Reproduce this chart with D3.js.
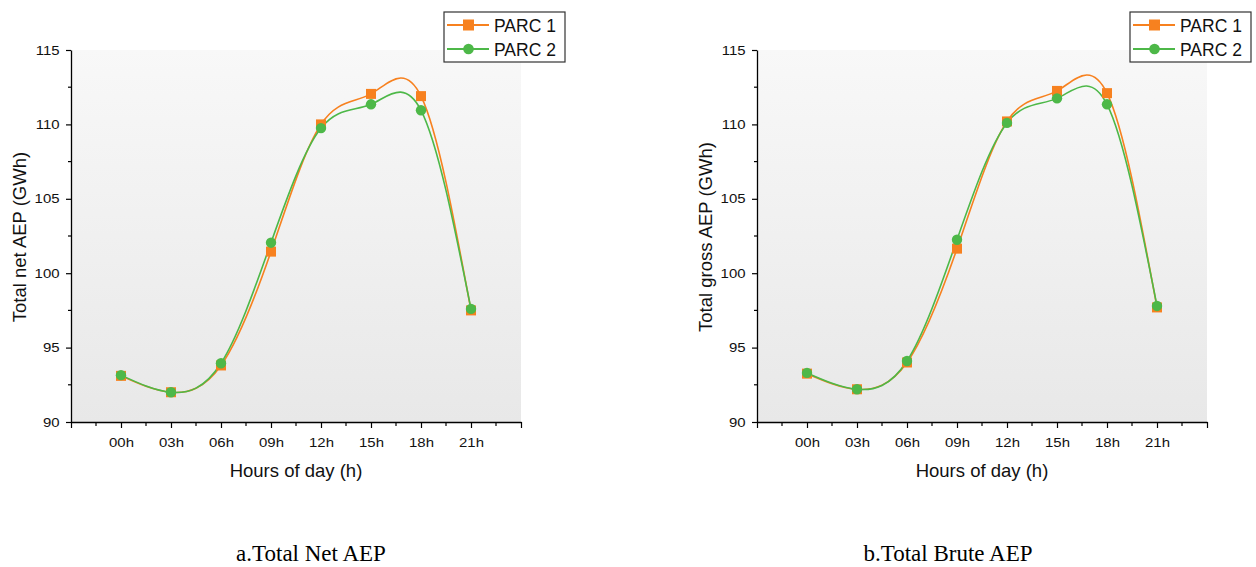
<!DOCTYPE html>
<html>
<head>
<meta charset="utf-8">
<script src="https://cdn.jsdelivr.net/npm/d3@7"></script>
<style>
  html, body { margin: 0; padding: 0; background: #fff; }
  svg { display: block; }
</style>
</head>
<body>
<svg id="chart" width="1256" height="567"></svg>
<script>
// ---- data ----
const hours = [0, 3, 6, 9, 12, 15, 18, 21];
const hourLabels = ["00h", "03h", "06h", "09h", "12h", "15h", "18h", "21h"];
const seriesNames = ["PARC 1", "PARC 2"];
const netParc1 = [93.1, 92.0, 93.8, 101.45, 110.0, 112.05, 111.9, 97.5];
const netParc2 = [93.15, 92.0, 93.95, 102.05, 109.75, 111.35, 110.95, 97.6];
const grossParc1 = [93.25, 92.2, 94.0, 101.65, 110.2, 112.25, 112.1, 97.7];
const grossParc2 = [93.3, 92.2, 94.1, 102.25, 110.1, 111.75, 111.35, 97.8];
const yTicks = [90, 95, 100, 105, 110, 115];
const yTitles = ["Total net AEP (GWh)", "Total gross AEP (GWh)"];
const captions = ["a.Total Net AEP", "b.Total Brute AEP"];
const xTitle = "Hours of day (h)";

const colors = ["#f7811f", "#4db848"];
const SANS = "Arial, 'Liberation Sans', sans-serif";

const svg = d3.select("#chart");
const defs = svg.append("defs");
const grad = defs.append("linearGradient").attr("id", "bg").attr("x1", 0).attr("y1", 0).attr("x2", 0).attr("y2", 1);
grad.append("stop").attr("offset", "0%").attr("stop-color", "#f8f8f8");
grad.append("stop").attr("offset", "100%").attr("stop-color", "#e8e8e8");

function panel(ox, s1, s2, yTitle, caption, captionX, legendX) {
  const x0 = ox, x1 = ox + 450, yTop = 50, yBot = 422;
  const x = d3.scaleLinear().domain([-3, 24]).range([x0, x1]);
  const y = d3.scaleLinear().domain([90, 115]).range([yBot, yTop]);
  const g = svg.append("g");

  g.append("rect").attr("x", x0).attr("y", yTop).attr("width", x1 - x0).attr("height", yBot - yTop)
    .attr("fill", "url(#bg)");

  // y axis
  const yAxis = d3.axisLeft(y).tickValues(yTicks).tickSize(5).tickSizeOuter(0).tickPadding(5);
  const ya = g.append("g").attr("transform", `translate(${x0},0)`).call(yAxis);
  ya.selectAll("text").attr("font-family", SANS).attr("font-size", 13).attr("fill", "#111")
    .attr("transform", "scale(1.15,1)");
  ya.select(".domain").attr("stroke", "#000").attr("stroke-width", 1.3);
  ya.selectAll(".tick line").attr("stroke", "#000").attr("stroke-width", 1.2);
  const yMinor = d3.range(92.5, 115, 5);
  g.append("g").selectAll("line").data(yMinor).join("line")
    .attr("x1", x0 - 3).attr("x2", x0).attr("y1", d => y(d)).attr("y2", d => y(d))
    .attr("stroke", "#000").attr("stroke-width", 1.2);

  // x axis
  const majorX = d3.range(-3, 25, 3);
  const xAxis = d3.axisBottom(x).tickValues(majorX).tickSize(6).tickSizeOuter(0).tickPadding(10)
    .tickFormat(d => { const i = hours.indexOf(d); return i >= 0 ? hourLabels[i] : ""; });
  const xa = g.append("g").attr("transform", `translate(0,${yBot})`).call(xAxis);
  xa.selectAll("text").attr("font-family", SANS).attr("font-size", 13).attr("fill", "#111")
    .attr("transform", "scale(1.15,1)");
  xa.select(".domain").attr("stroke", "#000").attr("stroke-width", 1.3);
  xa.selectAll(".tick line").attr("stroke", "#000").attr("stroke-width", 1.2);
  const xMinor = d3.range(-1.5, 24, 3);
  g.append("g").selectAll("line").data(xMinor).join("line")
    .attr("x1", d => x(d)).attr("x2", d => x(d)).attr("y1", yBot).attr("y2", yBot + 4)
    .attr("stroke", "#000").attr("stroke-width", 1.2);

  // titles
  g.append("text").attr("x", (x0 + x1) / 2).attr("y", 477).attr("text-anchor", "middle")
    .attr("font-family", SANS).attr("font-size", 18.5).attr("fill", "#111").text(xTitle);
  g.append("text").attr("transform", `translate(${x0 - 45},${(yTop + yBot) / 2 + 1}) rotate(-90)`)
    .attr("text-anchor", "middle").attr("font-family", SANS).attr("fill", "#111")
    .attr("font-size", 18.5).text(yTitle);
  g.append("text").attr("x", captionX).attr("y", 561).attr("text-anchor", "middle")
    .attr("font-family", "'Times New Roman', 'Liberation Serif', serif").attr("font-size", 23).text(caption);

  const line = d3.line().x(d => x(d[0])).y(d => y(d[1])).curve(d3.curveNatural);
  [s1, s2].forEach((vals, si) => {
    const pts = hours.map((h, i) => [h, vals[i]]);
    g.append("path").datum(pts).attr("d", line).attr("fill", "none")
      .attr("stroke", colors[si]).attr("stroke-width", 1.6);
  });
  [s1, s2].forEach((vals, si) => {
    const pts = hours.map((h, i) => [h, vals[i]]);
    if (si === 0) {
      g.append("g").selectAll("rect").data(pts).join("rect")
        .attr("x", d => x(d[0]) - 5).attr("y", d => y(d[1]) - 5).attr("width", 10).attr("height", 10)
        .attr("fill", colors[0]);
    } else {
      g.append("g").selectAll("circle").data(pts).join("circle")
        .attr("cx", d => x(d[0])).attr("cy", d => y(d[1])).attr("r", 5.2).attr("fill", colors[1]);
    }
  });

  // legend
  const lg = svg.append("g").attr("transform", `translate(${legendX},12)`);
  lg.append("rect").attr("x", 0).attr("y", 0).attr("width", 121).attr("height", 50)
    .attr("fill", "#fff").attr("stroke", "#333").attr("stroke-width", 1.2);
  seriesNames.forEach((n, i) => {
    const cy = 13 + i * 24;
    lg.append("line").attr("x1", 3).attr("x2", 45).attr("y1", cy).attr("y2", cy)
      .attr("stroke", colors[i]).attr("stroke-width", 1.8);
    if (i === 0) lg.append("rect").attr("x", 19).attr("y", cy - 5.5).attr("width", 11).attr("height", 11).attr("fill", colors[0]);
    else lg.append("circle").attr("cx", 24.5).attr("cy", cy).attr("r", 5.3).attr("fill", colors[1]);
    lg.append("text").attr("x", 50).attr("y", cy + 6.5).attr("font-family", SANS).attr("fill", "#111")
      .attr("font-size", 17.5).text(n);
  });
}

panel(71, netParc1, netParc2, yTitles[0], captions[0], 311, 444);
panel(757, grossParc1, grossParc2, yTitles[1], captions[1], 948, 1130);
</script>
</body>
</html>
